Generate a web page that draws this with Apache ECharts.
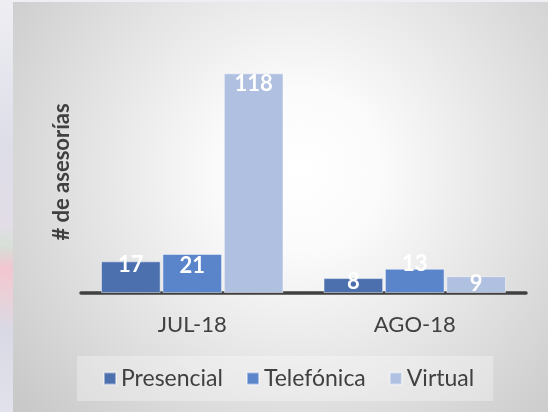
<!DOCTYPE html>
<html>
<head>
<meta charset="utf-8">
<script src="https://cdn.jsdelivr.net/npm/echarts@6/dist/echarts.min.js"></script>
<style>
  html, body { margin:0; padding:0; width:548px; height:412px; overflow:hidden; }
  body { background: linear-gradient(to bottom, #eeeef3 0px, #dddde8 150px, #e2dde6 225px, #d6e0d8 245px, #f2c6d0 268px, #ead0d8 295px, #d9d9e5 330px, #e2e2ec 412px); position:relative; }
  #bg { position:absolute; left:13px; top:2px; width:535px; height:410px;
        background: radial-gradient(circle at 287px 168px, #ffffff 0px, #fbfbfb 80px, #c6c6c6 380px); }
  #main { position:absolute; left:0; top:0; width:548px; height:412px; }
</style>
</head>
<body>
<div id="bg"></div>
<div id="main"></div>
<script>
const categories = ['JUL-18', 'AGO-18'];
const seriesNames = ['Presencial', 'Telefónica', 'Virtual'];
const presencial = [17, 8];
const telefonica = [21, 13];
const virtual = [118, 9];
const yMax = 130;

const colors = ['#4c70ae', '#5a85cb', '#b0c0e0'];
const labelShift = [[-9, -9], [-1, -18], [-2, -5]];
const values = [presencial, telefonica, virtual];

const chart = echarts.init(document.getElementById('main'), null, { renderer: 'canvas' });
const FONT = 'Lato, "Open Sans", sans-serif';

const series = seriesNames.map((name, si) => ({
  name: name,
  type: 'bar',
  barCategoryGap: '18%',
  barGap: '3%',
  itemStyle: { color: colors[si], borderColor: 'rgba(255,255,255,0.45)', borderWidth: 1 },
  data: values[si].map((v, ci) => ({
    value: v,
    label: { offset: [0, labelShift[si][ci]] }
  })),
  label: {
    show: true, position: 'insideTop', distance: 2,
    color: '#ffffff', fontFamily: FONT, fontWeight: 'bold', fontSize: 22
  }
}));

chart.setOption({
  backgroundColor: 'transparent',
  animation: false,
  grid: { left: 81, right: 22, top: 51, bottom: 119, containLabel: false },
  xAxis: {
    type: 'category', data: categories,
    axisLine: { lineStyle: { color: '#404040', width: 3.5 } },
    axisTick: { show: false },
    axisLabel: { color: '#404040', fontFamily: FONT, fontSize: 22, margin: 21 }
  },
  yAxis: {
    type: 'value', min: 0, max: yMax,
    axisLine: { show: false }, axisTick: { show: false },
    axisLabel: { show: false }, splitLine: { show: false },
    name: '# de asesorías', nameLocation: 'middle', nameGap: 8, nameRotate: 90,
    nameTextStyle: { color: '#404040', fontFamily: FONT, fontWeight: 'bold', fontSize: 22 }
  },
  legend: {
    data: seriesNames, left: 77, top: 356,
    padding: [11, 19, 11, 26], itemGap: 23, itemWidth: 12, itemHeight: 12,
    backgroundColor: 'rgba(255,255,255,0.3)',
    icon: 'rect',
    textStyle: { color: '#404040', fontFamily: FONT, fontSize: 23 }
  },
  series: series
});
</script>
</body>
</html>
